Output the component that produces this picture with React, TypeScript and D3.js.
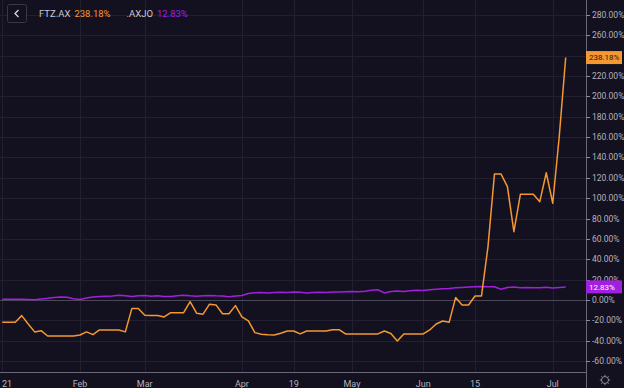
import * as d3 from 'd3';
import { useEffect, useRef } from 'react';

// bar index 0..87 (trading days shown on the chart)
const ftzPct = [
  -21.9, -21.9, -21.9, -15.4, -23.6, -31.4, -30.2, -35.4, -35.4, -35.4,
  -35.4, -35.4, -34.4, -31.4, -34.1, -29.5, -29.5, -29.5, -29.5, -31.4,
  -8.5, -8.5, -15.0, -15.3, -15.3, -16.7, -12.5, -12.5, -12.5, -1.7,
  -13.0, -14.0, -4.2, -4.9, -13.5, -13.5, -5.6, -16.7, -20.6, -32.1,
  -33.7, -34.2, -34.4, -32.7, -30.5, -30.5, -33.4, -30.5, -30.5, -30.5,
  -30.5, -29.2, -29.2, -33.4, -33.4, -33.4, -33.4, -33.4, -33.4, -30.5,
  -33.0, -40.3, -33.4, -33.4, -33.4, -33.4, -29.5, -23.6, -20.7, -22.0,
  2.3, -5.0, -5.0, 3.9, 3.9, 52.4, 123.8, 123.8, 111.3, 67.1,
  103.8, 103.8, 103.8, 96.6, 125.0, 95.0, 160.4, 238.18,
];

const axjoPct = [
  0.7, 0.8, 0.6, 0.7, 0.5, 0.3, 0.9, 1.6, 2.5, 2.8,
  2.6, 1.2, 0.4, 1.8, 2.9, 3.3, 3.6, 3.8, 4.6, 4.2,
  3.4, 4.1, 4.3, 3.7, 4.0, 3.5, 3.3, 4.2, 4.6, 4.0,
  3.7, 4.1, 4.4, 4.0, 3.8, 3.2, 3.9, 4.3, 6.4, 7.0,
  7.2, 6.9, 7.3, 7.6, 7.4, 7.8, 7.5, 6.8, 7.3, 7.6,
  7.4, 7.9, 7.7, 8.1, 8.3, 8.0, 8.6, 9.6, 9.9, 6.9,
  8.2, 8.9, 8.4, 9.0, 9.5, 9.3, 9.9, 10.6, 10.9, 11.3,
  11.9, 12.2, 12.6, 12.9, 13.1, 12.9, 13.0, 10.6, 12.3, 12.7,
  12.0, 12.2, 11.9, 12.1, 12.4, 11.8, 12.3, 12.83,
];

const xTickIdx = [0, 12, 22, 37, 45, 54, 65, 73, 85];
const xTickLabels = ['21', 'Feb', 'Mar', 'Apr', '19', 'May', 'Jun', '15', 'Jul'];
const yTicks = [-60, -40, -20, 0, 20, 40, 60, 80, 100, 120, 140, 160, 180, 200, 220, 240, 260, 280];

const W = 624;
const H = 388;
const BG = '#131120';
const ORANGE = '#f4982f';
const PURPLE = '#a31fe0';
const FONT = 'Roboto, "DejaVu Sans", sans-serif';

export default function App() {
  const ref = useRef<SVGSVGElement>(null);

  useEffect(() => {
    const svg = d3.select(ref.current);
    svg.selectAll('*').remove();

    const axisX = 586;
    const axisY = 372;

    const x = d3.scaleLinear().domain([0, ftzPct.length - 1]).range([2.3, 565.7]);
    const y = d3.scaleLinear().domain([-60, 280]).range([361, 15]);

    const lastFtz = ftzPct[ftzPct.length - 1];
    const lastAxjo = axjoPct[axjoPct.length - 1];

    svg.append('rect').attr('width', W).attr('height', H).attr('fill', BG);

    svg.append('defs').append('clipPath').attr('id', 'plot')
      .append('rect').attr('x', 0).attr('y', 0).attr('width', axisX).attr('height', axisY);

    // grid
    const grid = svg.append('g').attr('stroke', '#221f30').attr('stroke-width', 1);
    grid.selectAll('line.h')
      .data(yTicks.filter(d => d !== 0))
      .enter().append('line')
      .attr('x1', 0).attr('x2', axisX)
      .attr('y1', d => Math.round(y(d)) + 0.5).attr('y2', d => Math.round(y(d)) + 0.5);
    grid.selectAll('line.v')
      .data(xTickIdx)
      .enter().append('line')
      .attr('y1', 0).attr('y2', axisY)
      .attr('x1', d => Math.round(x(d)) + 0.5).attr('x2', d => Math.round(x(d)) + 0.5);

    // zero line
    svg.append('line')
      .attr('x1', 0).attr('x2', axisX)
      .attr('y1', Math.round(y(0)) + 0.5).attr('y2', Math.round(y(0)) + 0.5)
      .attr('stroke', '#4a4757').attr('stroke-width', 1);

    const line = d3.line<number>().x((_, i) => x(i)).y(d => y(d));
    const plot = svg.append('g').attr('clip-path', 'url(#plot)');
    plot.append('path').datum(axjoPct)
      .attr('d', line).attr('fill', 'none')
      .attr('stroke', PURPLE).attr('stroke-width', 1.5);
    plot.append('path').datum(ftzPct)
      .attr('d', line).attr('fill', 'none')
      .attr('stroke', ORANGE).attr('stroke-width', 1.5)
      .attr('stroke-linejoin', 'round');

    // axes lines
    svg.append('line')
      .attr('x1', axisX + 0.5).attr('x2', axisX + 0.5).attr('y1', 0).attr('y2', H)
      .attr('stroke', '#6b6878');
    svg.append('line')
      .attr('x1', 0).attr('x2', axisX).attr('y1', axisY + 0.5).attr('y2', axisY + 0.5)
      .attr('stroke', '#6b6878');

    // right axis (labels fully hidden behind the value tags are skipped)
    const tagClear = (d: number) =>
      Math.abs(y(d) - y(lastFtz)) > 5 && Math.abs(y(d) - y(lastAxjo)) > 5;
    const ra = svg.append('g');
    ra.selectAll('line')
      .data(yTicks)
      .enter().append('line')
      .attr('x1', axisX).attr('x2', axisX + 4)
      .attr('y1', d => Math.round(y(d)) + 0.5).attr('y2', d => Math.round(y(d)) + 0.5)
      .attr('stroke', '#8d8a98');
    ra.selectAll('text')
      .data(yTicks.filter(tagClear))
      .enter().append('text')
      .attr('x', axisX + 6).attr('y', d => y(d))
      .attr('dy', '0.35em')
      .attr('fill', '#b4b2bd')
      .style('font-family', FONT).style('font-size', '8.5px')
      .text(d => `${d.toFixed(2)}%`);

    // bottom axis
    svg.selectAll('text.xl')
      .data(xTickIdx)
      .enter().append('text')
      .attr('class', 'xl')
      .attr('x', (d, i) => i === 0 ? 2 : x(d))
      .attr('y', 384)
      .attr('dy', '0.35em')
      .attr('text-anchor', (d, i) => i === 0 ? 'start' : 'middle')
      .attr('fill', '#b4b2bd')
      .style('font-family', FONT).style('font-size', '9px')
      .text((d, i) => xTickLabels[i]);

    // last value tags
    const tags = [
      { v: lastFtz, c: ORANGE, t: '#1a1420' },
      { v: lastAxjo, c: PURPLE, t: '#ffffff' },
    ];
    tags.forEach(tag => {
      const cy = y(tag.v);
      svg.append('rect')
        .attr('x', axisX).attr('y', cy - 6.5).attr('width', 36).attr('height', 13)
        .attr('fill', tag.c);
      svg.append('text')
        .attr('x', axisX + 3).attr('y', cy).attr('dy', '0.35em')
        .attr('fill', tag.t)
        .style('font-family', FONT).style('font-size', '8px')
        .text(`${tag.v.toFixed(2)}%`);
    });

    // legend
    svg.append('rect')
      .attr('x', 7.5).attr('y', 4.5).attr('width', 19).attr('height', 18).attr('rx', 2)
      .attr('fill', BG).attr('stroke', '#3a3748');
    svg.append('path')
      .attr('d', 'M18.5,10 L15,13.5 L18.5,17')
      .attr('fill', 'none').attr('stroke', '#d8d6e0').attr('stroke-width', 1.3);
    const leg = svg.append('text').attr('x', 39).attr('y', 14).attr('dy', '0.35em')
      .style('font-family', FONT).style('font-size', '9.5px');
    leg.append('tspan').attr('fill', '#c9c7d2').text('FTZ.AX');
    leg.append('tspan').attr('dx', 4).attr('fill', ORANGE).text(`${lastFtz.toFixed(2)}%`);
    leg.append('tspan').attr('dx', 16).attr('fill', '#c9c7d2').text('.AXJO');
    leg.append('tspan').attr('dx', 4).attr('fill', PURPLE).text(`${lastAxjo.toFixed(2)}%`);

    // settings gear
    const gear = svg.append('g').attr('transform', 'translate(605,380)')
      .attr('fill', 'none').attr('stroke', '#8d8a98').attr('stroke-width', 1);
    gear.append('circle').attr('r', 3.5);
    d3.range(8).forEach(k => {
      const a = (k * Math.PI) / 4;
      gear.append('line')
        .attr('x1', Math.cos(a) * 3.5).attr('y1', Math.sin(a) * 3.5)
        .attr('x2', Math.cos(a) * 5.2).attr('y2', Math.sin(a) * 5.2);
    });

    return () => {
      svg.selectAll('*').remove();
    };
  }, []);

  return (
    <div style={{ position: 'fixed', left: 0, top: 0 }}>
      <svg ref={ref} width={W} height={H} style={{ display: 'block' }} />
    </div>
  );
}
